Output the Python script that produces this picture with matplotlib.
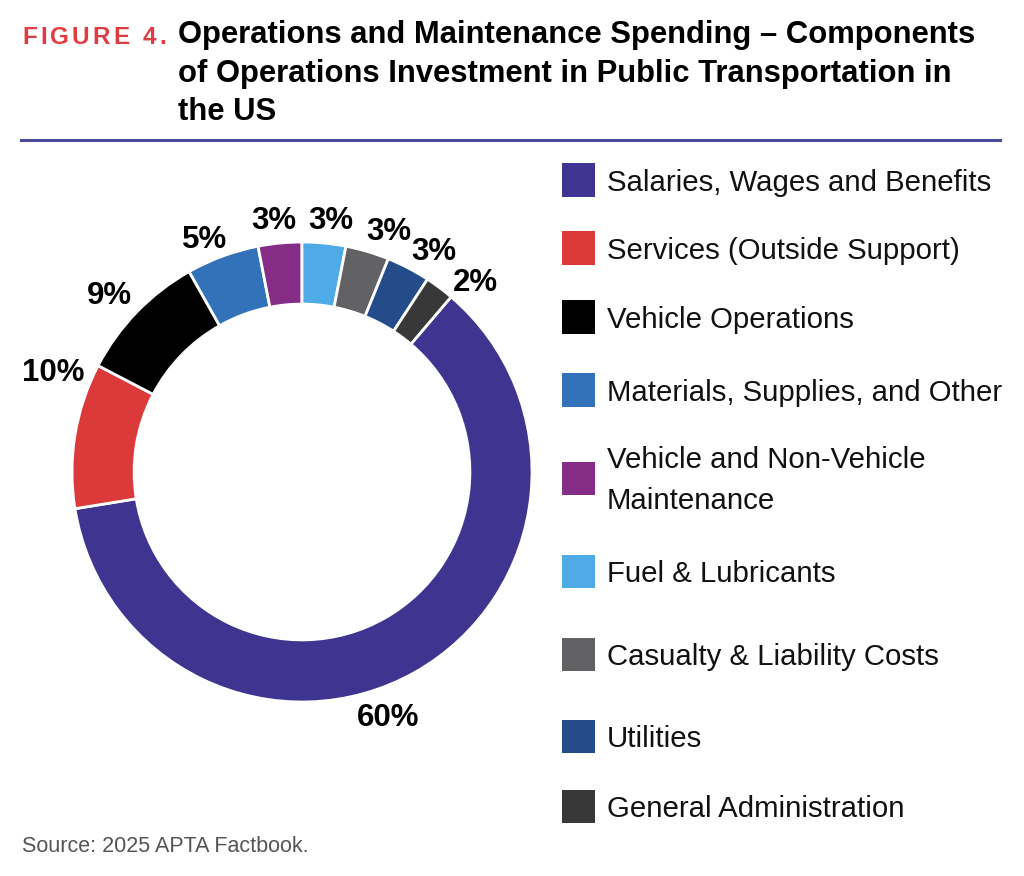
import matplotlib
matplotlib.use('Agg')
import matplotlib.pyplot as plt
from matplotlib.patches import Rectangle
from matplotlib.lines import Line2D
import numpy as np

# ---------------- data ----------------
categories = [
    "Salaries, Wages and Benefits",
    "Services (Outside Support)",
    "Vehicle Operations",
    "Materials, Supplies, and Other",
    "Vehicle and Non-Vehicle\nMaintenance",
    "Fuel & Lubricants",
    "Casualty & Liability Costs",
    "Utilities",
    "General Administration",
]
values = [60, 10, 9, 5, 3, 3, 3, 3, 2]
value_labels = ["60%", "10%", "9%", "5%", "3%", "3%", "3%", "3%", "2%"]
colors = ["#3F3590", "#DC3A3A", "#000000", "#3272B8", "#852C87",
          "#4EABE5", "#626264", "#244B8A", "#383838"]

title_prefix = "FIGURE 4."
title_lines = ["Operations and Maintenance Spending \u2013 Components",
               "of Operations Investment in Public Transportation in",
               "the US"]
source_text = "Source: 2025 APTA Factbook."

# ---------------- style ----------------
plt.rcParams['font.family'] = ['Liberation Sans', 'DejaVu Sans']
W, H = 1024, 876
fig = plt.figure(figsize=(W / 100, H / 100), dpi=100)
fig.patch.set_facecolor('white')


def fx(px):
    return px / W


def fy(py):
    return 1 - py / H


# ---------------- donut ----------------
cx, cy, R = 302, 472, 230
half = 300
ax = fig.add_axes([fx(cx - half), fy(cy + half), 2 * half / W, 2 * half / H])
startangle = 90 - sum(values[5:]) / sum(values) * 360
wedges, _ = ax.pie(values, colors=colors, startangle=startangle,
                   counterclock=False, radius=1,
                   wedgeprops=dict(width=0.27, edgecolor='white', linewidth=2))
L = half / R
ax.set_xlim(-L, L)
ax.set_ylim(-L, L)
ax.set_aspect('equal')
ax.axis('off')

label_r = [1.134, 1.165, 1.136, 1.094, 1.099, 1.099, 1.11, 1.116, 1.116]
label_dang = [-10.1, -12.4, 1.7, 2.6, 1.0, -1.1, -3.4, -3.4, -5.8]
for w, lab, r, da in zip(wedges, value_labels, label_r, label_dang):
    mid = np.deg2rad((w.theta1 + w.theta2) / 2 + da)
    ax.text(r * np.cos(mid), r * np.sin(mid), lab, ha='center', va='center',
            fontsize=22.5, fontweight='bold', color='black')

# ---------------- title ----------------
title_fs = 22.3
title_baselines = [43.5, 82, 120.5]
for line, b in zip(title_lines, title_baselines):
    fig.text(fx(178), fy(b), line, fontsize=title_fs, fontweight='bold',
             color='black', ha='left', va='baseline')

# letter-spaced red prefix
renderer = fig.canvas.get_renderer()
pref_fs = 17.5
tmp = fig.text(0, 0, title_prefix, fontsize=pref_fs, fontweight='bold')
natural = tmp.get_window_extent(renderer).width
tmp.remove()
tracking = (144 - natural) / (len(title_prefix) - 1)
for i, ch in enumerate(title_prefix):
    if i > 0:
        t = fig.text(0, 0, title_prefix[:i] + "|", fontsize=pref_fs, fontweight='bold')
        wbar = fig.text(0, 0, "|", fontsize=pref_fs, fontweight='bold')
        off = t.get_window_extent(renderer).width - wbar.get_window_extent(renderer).width
        t.remove()
        wbar.remove()
    else:
        off = 0
    if ch == ' ':
        continue
    fig.text(fx(22 + off + i * tracking), fy(43.5), ch, fontsize=pref_fs,
             fontweight='bold', color='#E03C41', ha='left', va='baseline')

# rule
fig.add_artist(Line2D([fx(21), fx(1000)], [fy(140), fy(140)], color='#4A4A9C',
                      linewidth=2.2, transform=fig.transFigure))

# ---------------- legend ----------------
leg_centers = [180, 248, 317, 390, 478, 571, 654, 736, 806]
leg_fs = 21.2
cap_px = 0.716 * leg_fs * 100 / 72
for cat, col, yc in zip(categories, colors, leg_centers):
    fig.add_artist(Rectangle((fx(562), fy(yc + 16.5)), 33 / W, 33 / H,
                             facecolor=col, edgecolor='none',
                             transform=fig.transFigure))
    lines = cat.split("\n")
    n = len(lines)
    for i, ln in enumerate(lines):
        b = yc + cap_px / 2 + (i - (n - 1) / 2) * 41
        fig.text(fx(607), fy(b), ln, fontsize=leg_fs, color='#111111',
                 ha='left', va='baseline')

# ---------------- source ----------------
fig.text(fx(22), fy(852.5), source_text, fontsize=15.5, color='#555555',
         ha='left', va='baseline')

fig.savefig('out.png', dpi=100, facecolor='white')
